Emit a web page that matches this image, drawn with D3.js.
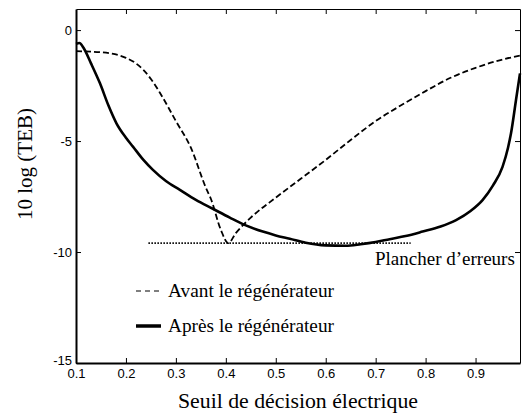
<!DOCTYPE html>
<html>
<head>
<meta charset="utf-8">
<script src="https://cdn.jsdelivr.net/npm/d3@7"></script>
<style>
  body { margin: 0; background: white; }
  .tick text { font-family: "Liberation Sans", Arial, sans-serif; font-size: 13px; }
</style>
</head>
<body>
<svg id="chart" width="522" height="415"></svg>
<script>
// seuil de décision (abscisse)
var avantX = [0.1, 0.15, 0.2, 0.22, 0.25, 0.27, 0.3, 0.33, 0.36, 0.37, 0.39, 0.405,
  0.42, 0.45, 0.5, 0.55, 0.6, 0.65, 0.7, 0.75, 0.8, 0.85, 0.9, 0.95, 0.989];
var avantY = [-0.95, -1.0, -1.25, -1.5, -2.2, -2.9, -4.1, -5.3, -7.1, -7.6, -9.0, -9.6,
  -9.15, -8.45, -7.55, -6.7, -5.85, -4.95, -4.1, -3.4, -2.75, -2.15, -1.7, -1.35, -1.15];

var apresX = [0.1, 0.107, 0.115, 0.13, 0.148, 0.165, 0.181, 0.2, 0.214, 0.235, 0.254, 0.28,
  0.308, 0.34, 0.374, 0.408, 0.44, 0.474, 0.5, 0.528, 0.56, 0.6, 0.64, 0.67, 0.7, 0.728,
  0.76, 0.794, 0.83, 0.861, 0.89, 0.914, 0.935, 0.954, 0.965, 0.971, 0.981, 0.989];
var apresY = [-0.62, -0.58, -0.8, -1.5, -2.4, -3.4, -4.2, -4.85, -5.25, -5.85, -6.3, -6.8,
  -7.2, -7.65, -8.05, -8.45, -8.8, -9.08, -9.25, -9.4, -9.58, -9.7, -9.72, -9.65, -9.55, -9.42,
  -9.28, -9.08, -8.85, -8.56, -8.15, -7.66, -7.0, -6.16, -5.3, -4.65, -3.15, -1.95];

var plancherX = [0.245, 0.77];
var plancherY = [-9.6, -9.6];

var xTicks = [0.1, 0.2, 0.3, 0.4, 0.5, 0.6, 0.7, 0.8, 0.9];
var yTicks = [0, -5, -10, -15];

var width = 522, height = 415;
var margin = { top: 9, right: 2, bottom: 52, left: 76 };

var svg = d3.select("#chart");

var x = d3.scaleLinear()
  .domain([0.1, 0.989])
  .range([margin.left, width - margin.right]);

var y = d3.scaleLinear()
  .domain([-15, 0.95])
  .range([height - margin.bottom, margin.top]);

function pts(xs, ys) {
  return xs.map(function (d, i) { return [d, ys[i]]; });
}

var line = d3.line()
  .x(function (d) { return x(d[0]); })
  .y(function (d) { return y(d[1]); })
  .curve(d3.curveMonotoneX);

// axes
var gBottom = svg.append("g")
  .attr("transform", "translate(0," + y(-15) + ")")
  .call(d3.axisBottom(x).tickValues(xTicks).tickSizeInner(-5).tickSizeOuter(0).tickPadding(6)
    .tickFormat(d3.format(".1f")));

var gLeft = svg.append("g")
  .attr("transform", "translate(" + x(0.1) + ",0)")
  .call(d3.axisLeft(y).tickValues(yTicks).tickSizeInner(-5).tickSizeOuter(0).tickPadding(4)
    .tickFormat(function (d) { return String(d); }));

var gTop = svg.append("g")
  .attr("transform", "translate(0," + y(0.95) + ")")
  .call(d3.axisTop(x).tickValues(xTicks.slice(1)).tickSizeInner(-5).tickSizeOuter(0).tickFormat(""));

var gRight = svg.append("g")
  .attr("transform", "translate(" + x(0.989) + ",0)")
  .call(d3.axisRight(y).tickValues(yTicks.slice(0, 3)).tickSizeInner(-5).tickSizeOuter(0).tickFormat(""));

[gBottom, gLeft].forEach(function (g) {
  g.select(".domain").attr("stroke-width", 2);
  g.selectAll(".tick line").attr("stroke-width", 1);
});
[gTop, gRight].forEach(function (g) {
  g.select(".domain").attr("stroke-width", 1);
});
gLeft.selectAll(".tick line").attr("x2", 5).attr("x1", 0);
gLeft.selectAll(".tick text").filter(function (d) { return d === -15; }).attr("dy", "0.1em");

// courbes
svg.append("path")
  .datum(pts(plancherX, plancherY))
  .attr("fill", "none")
  .attr("stroke", "#000")
  .attr("stroke-width", 1.6)
  .attr("stroke-dasharray", "1.5,1.5")
  .attr("d", line);

svg.append("path")
  .datum(pts(avantX, avantY))
  .attr("fill", "none")
  .attr("stroke", "#000")
  .attr("stroke-width", 1.8)
  .attr("stroke-dasharray", "6,3")
  .attr("d", line);

svg.append("path")
  .datum(pts(apresX, apresY))
  .attr("fill", "none")
  .attr("stroke", "#000")
  .attr("stroke-width", 2.6)
  .attr("d", line);

// légende
var serif = "'Liberation Serif', 'Times New Roman', serif";
var legend = [
  { label: "Avant le régénérateur", dash: "5,4", w: 1.1, yy: 291 },
  { label: "Après le régénérateur", dash: null, w: 3.5, yy: 326 }
];
legend.forEach(function (l) {
  svg.append("line")
    .attr("x1", 136).attr("x2", 161)
    .attr("y1", l.yy).attr("y2", l.yy)
    .attr("stroke", "#000")
    .attr("stroke-width", l.w)
    .attr("stroke-dasharray", l.dash);
  svg.append("text")
    .attr("x", 168).attr("y", l.yy + 6)
    .attr("font-family", serif)
    .attr("font-size", 18.5)
    .attr("textLength", 166)
    .attr("lengthAdjust", "spacingAndGlyphs")
    .text(l.label);
});

svg.append("text")
  .attr("x", 375).attr("y", 265)
  .attr("font-family", serif)
  .attr("font-size", 19)
  .text("Plancher d’erreurs");

// titres
svg.append("text")
  .attr("x", (x(0.1) + x(0.989)) / 2).attr("y", 408)
  .attr("text-anchor", "middle")
  .attr("font-family", serif)
  .attr("font-size", 21)
  .attr("textLength", 240)
  .attr("lengthAdjust", "spacingAndGlyphs")
  .text("Seuil de décision électrique");

svg.append("text")
  .attr("transform", "translate(32,164) rotate(-90)")
  .attr("text-anchor", "middle")
  .attr("font-family", serif)
  .attr("font-size", 21)
  .attr("textLength", 112)
  .attr("lengthAdjust", "spacingAndGlyphs")
  .text("10 log (TEB)");
</script>
</body>
</html>
